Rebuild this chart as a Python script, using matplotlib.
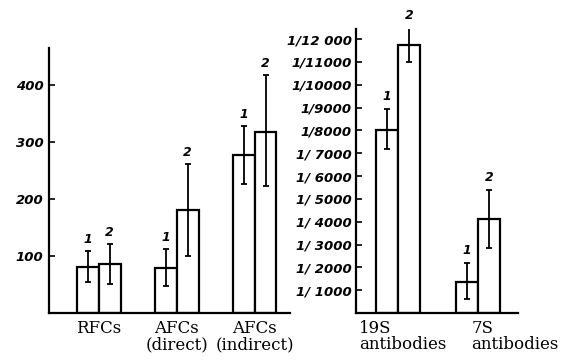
import numpy as np
from matplotlib import pyplot as plt

# left panel: cell counts
cells = ["RFCs", "AFCs\n(direct)", "AFCs\n(indirect)"]
cells_1 = [81, 79, 277]
cells_1_lo = [54, 47, 226]
cells_1_hi = [109, 112, 328]
cells_2 = [86, 181, 318]
cells_2_lo = [51, 100, 223]
cells_2_hi = [121, 261, 417]

# right panel: antibody titres (thousands, as 1/N)
abs_names = ["19S\nantibodies", "7S\nantibodies"]
abs_1 = [8.0, 1.35]
abs_1_lo = [7.2, 0.6]
abs_1_hi = [8.95, 2.2]
abs_2 = [11.75, 4.1]
abs_2_lo = [11.0, 2.85]
abs_2_hi = [12.5, 5.4]
titre_ticks = [1, 2, 3, 4, 5, 6, 7, 8, 9, 10, 11, 12]
titre_labels = ["1/ 1000", "1/ 2000", "1/ 3000", "1/ 4000", "1/ 5000", "1/ 6000",
                "1/ 7000", "1/8000", "1/9000", "1/10000", "1/11000", "1/12 000"]

tick_font = dict(family="DejaVu Sans", style="italic", weight="bold", size=9.5)
num_font = dict(family="DejaVu Sans", style="italic", weight="bold", size=9)
cat_font = dict(family="DejaVu Serif", size=12)


def panel(ax, v1, lo1, hi1, v2, lo2, hi2, width, ytop):
    x = np.arange(len(v1))
    for off, vals, lo, hi, tag in [(-width / 2, v1, lo1, hi1, "1"),
                                    (width / 2, v2, lo2, hi2, "2")]:
        vals = np.array(vals)
        err = [vals - np.array(lo), np.array(hi) - vals]
        ax.bar(x + off, vals, width, facecolor="white", edgecolor="black",
               linewidth=1.6, zorder=2)
        ax.errorbar(x + off, vals, yerr=err, fmt="none", ecolor="black",
                    elinewidth=1.3, capsize=2.5, capthick=1.3, zorder=3)
        for xi, h in zip(x + off, hi):
            ax.text(xi, h + ytop * 0.02, tag, ha="center", va="bottom",
                    **num_font)
    for s in ["top", "right"]:
        ax.spines[s].set_visible(False)
    for s in ["left", "bottom"]:
        ax.spines[s].set_linewidth(1.6)
    ax.set_ylim(0, ytop)
    ax.tick_params(axis="x", length=0)
    ax.tick_params(axis="y", direction="in", length=4, width=1.2, pad=4)
    ax.set_xticks([])
    return x


fig = plt.figure(figsize=(5.73, 3.64), dpi=100)

ax1 = fig.add_axes([0.0855, 0.14, 0.42, 0.728])
x1 = panel(ax1, cells_1, cells_1_lo, cells_1_hi,
           cells_2, cells_2_lo, cells_2_hi, 0.28, 465)
ax1.set_xlim(-0.64, 2.45)
ax1.set_yticks([100, 200, 300, 400])
ax1.set_yticklabels(["100", "200", "300", "400"], **tick_font)
for xi, name in zip(x1, cells):
    ax1.text(xi, -0.025, name, transform=ax1.get_xaxis_transform(),
             ha="center", va="top", linespacing=0.95, **cat_font)

ax2 = fig.add_axes([0.621, 0.14, 0.283, 0.78])
x2 = panel(ax2, abs_1, abs_1_lo, abs_1_hi,
           abs_2, abs_2_lo, abs_2_hi, 0.275, 12.44)
ax2.set_xlim(-0.525, 1.5)
ax2.set_yticks(titre_ticks)
ax2.set_yticklabels(titre_labels, **tick_font)
ax2.tick_params(axis="y", pad=3)
# antibody labels are left aligned, the second one pushed right
for xi, shift, name in zip(x2, [-0.48, -0.08], abs_names):
    ax2.text(xi + shift, -0.025, name, transform=ax2.get_xaxis_transform(),
             ha="left", va="top", linespacing=0.95, **cat_font)

fig.savefig("out.png", dpi=100)
